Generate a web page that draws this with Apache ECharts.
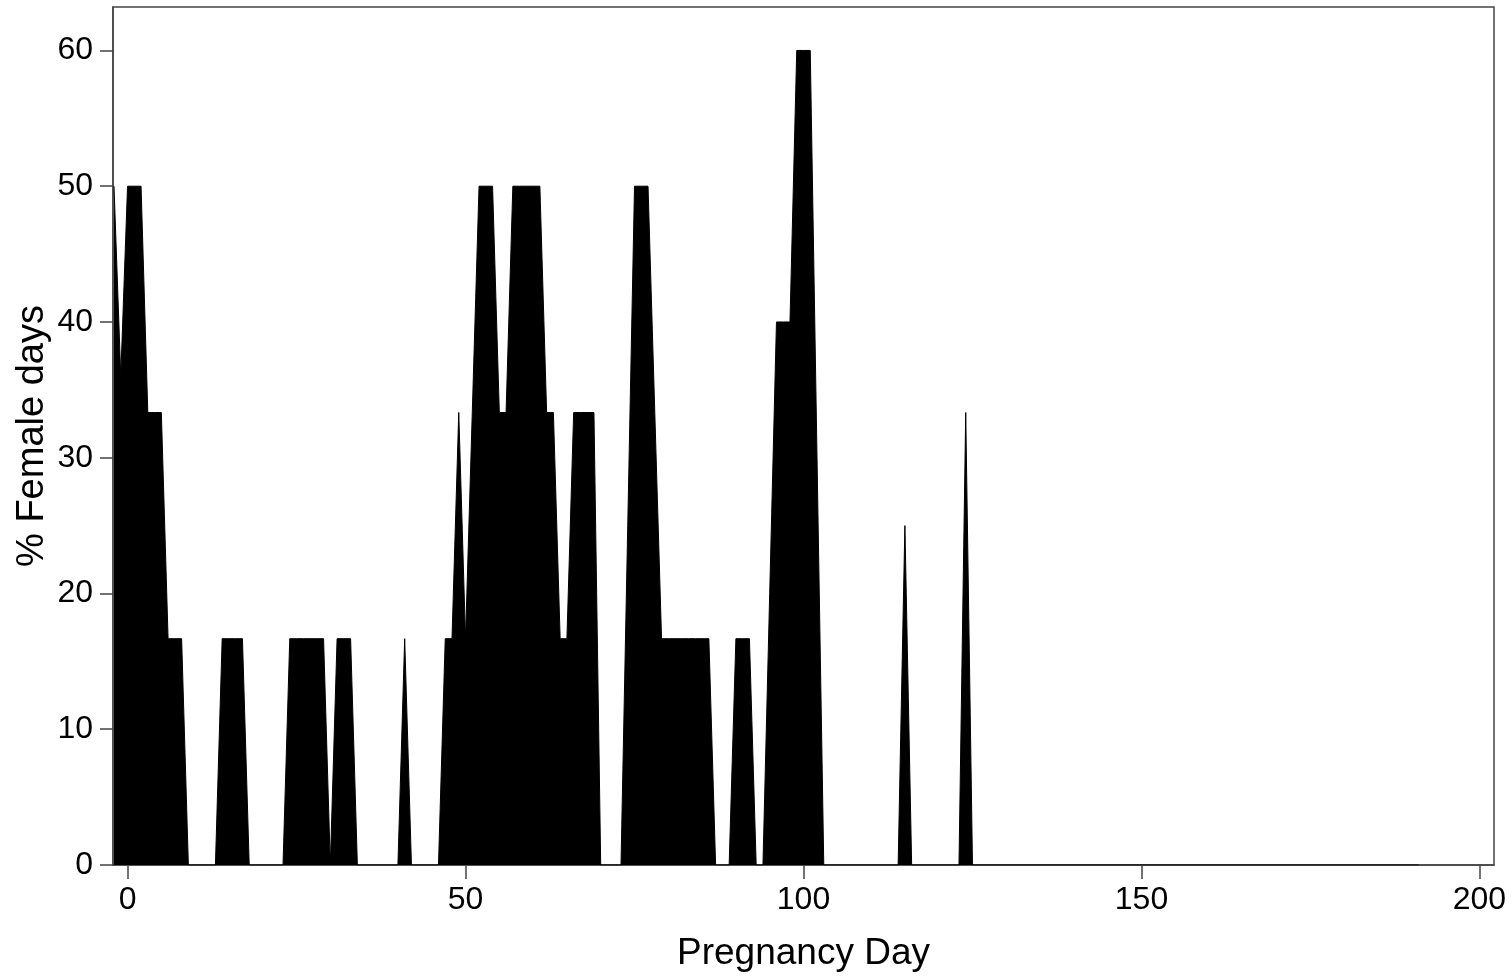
<!DOCTYPE html>
<html>
<head>
<meta charset="utf-8">
<script src="https://cdn.jsdelivr.net/npm/echarts@6/dist/echarts.min.js"></script>
<style>
  html, body { margin: 0; padding: 0; background: #fff; }
  #chart { width: 1512px; height: 979px; }
</style>
</head>
<body>
<div id="chart"></div>
<script>
// Pregnancy day (x) and % female days (y)
const days = [
  -2, -1, 0, 1, 2, 3, 4, 5, 6, 7, 8, 9,
  13, 14, 15, 16, 17, 18,
  23, 24, 25, 26, 27, 28, 29, 30, 31, 32, 33, 34,
  40, 41, 42,
  46, 47, 48, 49, 50, 51, 52, 53, 54, 55, 56, 57, 58, 59, 60, 61, 62, 63, 64, 65, 66, 67, 68, 69, 70,
  73, 74, 75, 76, 77, 78, 79, 80, 81, 82, 83, 84, 85, 86, 87,
  89, 90, 91, 92, 93,
  94, 95, 96, 97, 98, 99, 100, 101, 102, 103,
  114, 115, 116,
  123, 124, 125,
  191
];
const femalePct = [
  50, 36, 50, 50, 50, 33.33, 33.33, 33.33, 16.67, 16.67, 16.67, 0,
  0, 16.67, 16.67, 16.67, 16.67, 0,
  0, 16.67, 16.67, 16.67, 16.67, 16.67, 16.67, 0, 16.67, 16.67, 16.67, 0,
  0, 16.67, 0,
  0, 16.67, 16.67, 33.33, 16.67, 33.33, 50, 50, 50, 33.33, 33.33, 50, 50, 50, 50, 50, 33.33, 33.33, 16.67, 16.67, 33.33, 33.33, 33.33, 33.33, 0,
  0, 25, 50, 50, 50, 33.33, 16.67, 16.67, 16.67, 16.67, 16.67, 16.67, 16.67, 16.67, 0,
  0, 16.67, 16.67, 16.67, 0,
  0, 20, 40, 40, 40, 60, 60, 60, 30, 0,
  0, 25, 0,
  0, 33.33, 0,
  0
];
const xTicks = [0, 50, 100, 150, 200];
const yTicks = [0, 10, 20, 30, 40, 50, 60];
const xTitle = 'Pregnancy Day';
const yTitle = '% Female days';

const seriesData = days.map((d, i) => [d, femalePct[i]]);

const chart = echarts.init(document.getElementById('chart'), null, { renderer: 'canvas' });
const axisColor = '#444';
const font = 'Liberation Sans, Arial, sans-serif';
chart.setOption({
  animation: false,
  backgroundColor: '#fff',
  grid: {
    left: 113, right: 18, top: 7, bottom: 114,
    show: true, borderColor: axisColor, borderWidth: 1.5, backgroundColor: 'transparent'
  },
  graphic: [{
    type: 'text',
    x: 33, y: 436,
    rotation: Math.PI / 2,
    style: {
      text: yTitle,
      fill: '#000',
      font: '38px ' + font,
      align: 'center',
      verticalAlign: 'middle'
    }
  }],
  xAxis: {
    type: 'value',
    min: -2.15, max: 202.15,
    name: xTitle,
    nameLocation: 'middle',
    nameGap: 70,
    nameTextStyle: { color: '#000', fontSize: 37, fontFamily: font },
    splitLine: { show: false },
    axisLine: { show: true, onZero: false, lineStyle: { color: axisColor, width: 1.5 } },
    axisTick: { show: true, inside: false, length: 14, customValues: xTicks, lineStyle: { color: axisColor, width: 1.5 } },
    axisLabel: { customValues: xTicks, color: '#000', fontSize: 32, fontFamily: font, margin: 19 }
  },
  yAxis: {
    type: 'value',
    min: 0, max: 63.2,
    splitLine: { show: false },
    axisLine: { show: true, onZero: false, lineStyle: { color: axisColor, width: 1.5 } },
    axisTick: { show: true, inside: false, length: 13, customValues: yTicks, lineStyle: { color: axisColor, width: 1.5 } },
    axisLabel: { customValues: yTicks, color: '#000', fontSize: 32, fontFamily: font, margin: 20 }
  },
  series: [{
    type: 'line',
    data: seriesData,
    symbol: 'none',
    lineStyle: { color: '#000', width: 1 },
    areaStyle: { color: '#000', opacity: 1 },
    itemStyle: { color: '#000' }
  }]
});
</script>
</body>
</html>
